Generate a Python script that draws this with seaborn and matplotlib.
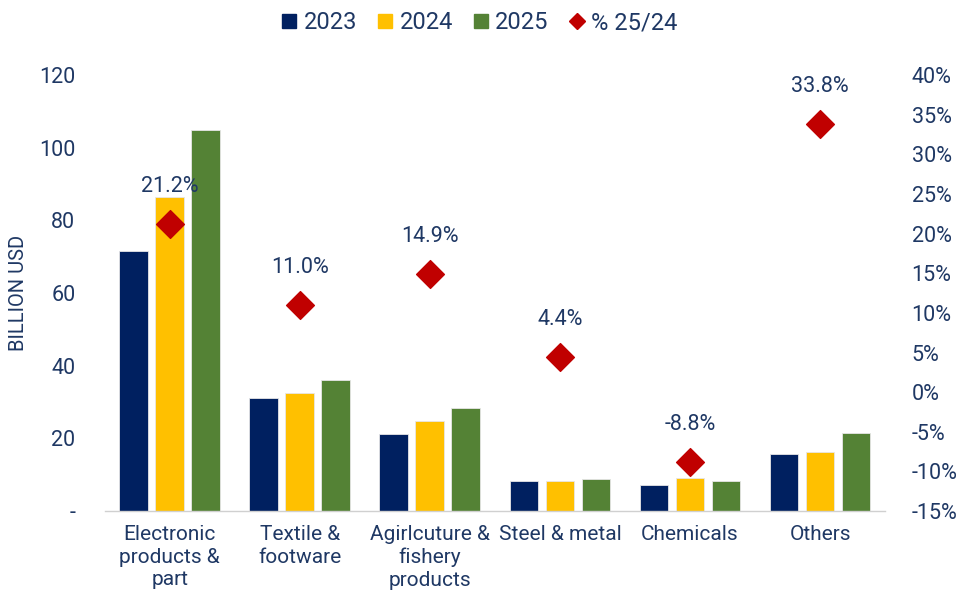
import pandas as pd
import numpy as np
import matplotlib
matplotlib.use("Agg")
import matplotlib.pyplot as plt
import seaborn as sns
from matplotlib.lines import Line2D
from matplotlib.ticker import FixedLocator

categories = ["Electronic\nproducts &\npart", "Textile &\nfootware",
              "Agirlcuture &\nfishery\nproducts", "Steel & metal",
              "Chemicals", "Others"]
years = ["2023", "2024", "2025"]
v2023 = [71.7, 31.0, 21.2, 8.2, 7.1, 15.7]
v2024 = [86.4, 32.5, 24.7, 8.4, 9.1, 16.2]
v2025 = [104.8, 36.1, 28.3, 8.8, 8.3, 21.5]
growth = [21.2, 11.0, 14.9, 4.4, -8.8, 33.8]
growth_labels = ["21.2%", "11.0%", "14.9%", "4.4%", "-8.8%", "33.8%"]

bar_colors = ["#002060", "#FFC000", "#548235"]
diamond_color = "#C00000"
text_color = "#1F3864"

sns.set_theme(style="white")
plt.rcParams["font.family"] = ["Roboto", "DejaVu Sans"]

df = pd.DataFrame({
    "category": categories * 3,
    "year": [y for y in years for _ in categories],
    "value": v2023 + v2024 + v2025,
})

fig = plt.figure(figsize=(9.6, 5.97), dpi=100)
ax = fig.add_axes([0.109, 0.144, 0.813, 0.730])

sns.barplot(data=df, x="category", y="value", hue="year", order=categories,
            hue_order=years, palette=bar_colors, saturation=1, width=0.83,
            gap=0.2, edgecolor="#E6E6E6", linewidth=0.6, ax=ax, legend=False)

ax.set_ylim(0, 120)
ax.set_xlim(-0.5, len(categories) - 0.5)
ax.set_yticks(np.arange(0, 121, 20))
ax.set_yticklabels(["-"] + [str(v) for v in range(20, 121, 20)])
ax.set_xlabel("")
ax.set_ylabel("BILLION USD", color=text_color, fontsize=14.5, labelpad=8)
ax.tick_params(axis="y", length=0, labelsize=15.5, labelcolor=text_color, pad=21)
ax.tick_params(axis="x", which="major", length=0, labelsize=15,
               labelcolor=text_color, pad=10)
ax.xaxis.set_minor_locator(FixedLocator(np.arange(-0.5, len(categories), 1)))
ax.tick_params(axis="x", which="minor", length=6, color="#D0D0D0", width=1)
for lbl in ax.get_xticklabels():
    lbl.set_linespacing(1.25)
for s in ["top", "right", "left"]:
    ax.spines[s].set_visible(False)
ax.spines["bottom"].set_color("#D0D0D0")
ax.spines["bottom"].set_linewidth(1)

ax2 = ax.twinx()
ax2.scatter(np.arange(len(categories)), growth, marker="D", s=200,
            color=diamond_color, zorder=5)
ax2.set_ylim(-15, 40)
ax2.set_yticks(np.arange(-15, 41, 5))
ax2.set_yticklabels([f"{v}%" for v in range(-15, 41, 5)])
ax2.tick_params(axis="y", length=0, labelsize=15.5, labelcolor=text_color, pad=19)
for s in ["top", "right", "left", "bottom"]:
    ax2.spines[s].set_visible(False)
ax2.grid(False)
for i, (g, t) in enumerate(zip(growth, growth_labels)):
    ax2.annotate(t, (i, g), xytext=(0, 27), textcoords="offset points",
                 ha="center", va="center", fontsize=15.5, color=text_color)

handles = [Line2D([], [], marker="s", linestyle="", markersize=9.5,
                  color=c) for c in bar_colors]
handles.append(Line2D([], [], marker="D", linestyle="", markersize=8.5,
                      color=diamond_color))
fig.legend(handles, years + ["% 25/24"], loc="center", ncol=4,
           bbox_to_anchor=(0.5, 0.962), frameon=False, fontsize=17,
           labelcolor=text_color, handletextpad=0.3, columnspacing=0.9,
           handlelength=0.6)

fig.savefig("out.png", dpi=100)
